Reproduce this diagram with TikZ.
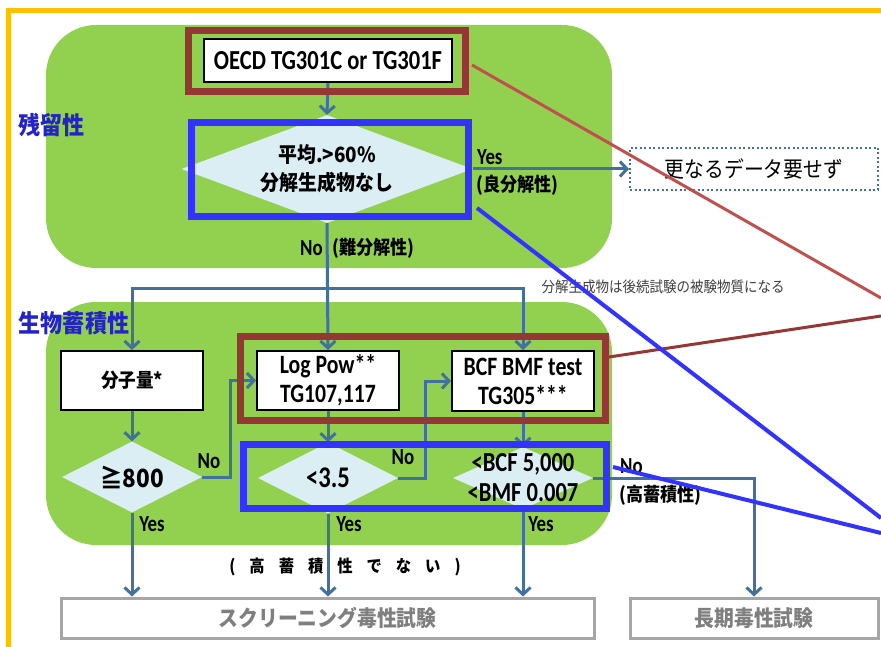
\documentclass[tikz,border=0pt]{standalone}
\usepackage{fontspec}
\setmainfont{Carlito}[FakeStretch=0.82]
\newfontfamily\jp{Noto Sans CJK JP}[FakeStretch=0.9]
\usetikzlibrary{shapes.geometric,arrows.meta}
\definecolor{panelgreen}{HTML}{92D050}
\definecolor{flow}{HTML}{41719C}
\definecolor{dia}{HTML}{DAEEF3}
\definecolor{hlred}{HTML}{953735}
\definecolor{hlblue}{HTML}{3333FF}
\definecolor{lnred}{HTML}{C0504D}
\definecolor{secblue}{HTML}{2323C8}
\definecolor{orng}{HTML}{FFC000}
\definecolor{grayline}{HTML}{A6A6A6}
\definecolor{graytext}{HTML}{7F7F7F}
\definecolor{notegray}{HTML}{404040}
\begin{document}
\begin{tikzpicture}[x=1pt,y=-1pt,
  panel/.style={fill=panelgreen,draw=none,rounded corners=50pt},
  procbox/.style={draw=black,line width=2pt,fill=white,inner sep=0pt,align=center,
    font=\bfseries\fontsize{26.5}{29}\selectfont},
  decision/.style={diamond,fill=dia,draw=none,inner sep=0pt},
  dtext/.style={inner sep=0pt,align=center},
  flowline/.style={draw=flow,line width=3pt},
  flowarrow/.style={flowline,-{Straight Barb[length=7pt,width=15pt]}},
  hlredbox/.style={draw=hlred,line width=7pt,inner sep=0pt},
  hlbluebox/.style={draw=hlblue,line width=7pt,inner sep=0pt},
  yesno/.style={font=\bfseries\fontsize{23}{25}\selectfont,inner sep=0pt},
  jplabel/.style={font=\jp\bfseries\fontsize{19}{22}\selectfont,inner sep=0pt},
  seclabel/.style={font=\jp\bfseries\fontsize{24.5}{26}\selectfont,text=secblue,inner sep=0pt},
  outbox/.style={draw=grayline,line width=3pt,fill=white,text=graytext,inner sep=0pt,
    font=\jp\bfseries\fontsize{22}{26}\selectfont},
  callred/.style={draw=lnred,line width=3pt},
  callbrown/.style={draw=hlred,line width=3pt},
  callblue/.style={draw=hlblue,line width=4pt}
]
\useasboundingbox (0,0) rectangle (881,647);
\fill[white] (0,0) rectangle (881,647);
% orange frame
\draw[orng,line width=5pt] (8.5,700) -- (8.5,10.5) -- (900,10.5);

% panels
\path[panel] (46,25) rectangle (612,268);
\path[panel] (46,302) rectangle (612,545);

% section labels
\node[seclabel] (secp) at (51.5,125) {残留性};
\node[seclabel] (secb) at (74,323) {生物蓄積性};

% top part
\node[procbox,minimum width=248pt,minimum height=43pt,font=\bfseries\fontsize{27.5}{29}\selectfont] (oecd) at (328,60.5) {OECD TG301C or TG301F};
\node[decision,minimum width=291pt,minimum height=108pt] (d1) at (327,169) {};
\node[dtext,font=\jp\bfseries\fontsize{21}{28}\selectfont] (d1t) at (d1.center) {平均.>60\%\\分解生成物なし};
\node[draw=flow,line width=2pt,dash pattern=on 2pt off 2.5pt,minimum width=248pt,minimum height=42pt,
  inner sep=0pt,font=\jp\fontsize{22}{24}\selectfont] (nomore) at (754,169) {更なるデータ要せず};

\draw[flowarrow] (oecd.south) -- (d1.north);
\draw[flowarrow] (d1.east) -- (nomore.west);
\node[yesno,anchor=west] (yes1) at (477,157) {Yes};
\node[jplabel,anchor=west] (ryes1) at (476,185) {(良分解性)};

% bioaccumulation part
\node[procbox,minimum width=142pt,minimum height=59pt,font=\jp\bfseries\fontsize{19.5}{22}\selectfont] (mw) at (132,380.5) {分子量*};
\node[procbox,minimum width=142pt,minimum height=59pt] (logpow) at (328,380.5) {Log Pow**\\TG107,117};
\node[procbox,minimum width=142pt,minimum height=60pt] (bcf) at (523,381) {BCF BMF test\\TG305***};

\node[decision,minimum width=140pt,minimum height=71pt] (d800) at (132,477) {};
\node[dtext,font=\jp\bfseries\fontsize{25}{26}\selectfont] (d800t) at (d800.center) {≧800};
\node[decision,minimum width=140pt,minimum height=71pt] (d35) at (328,478) {};
\node[dtext,font=\bfseries\fontsize{30}{30}\selectfont] (d35t) at (d35.center) {<3.5};
\node[decision,minimum width=140pt,minimum height=62pt] (dbcf) at (523,478) {};
\node[dtext,font=\bfseries\fontsize{27.5}{30}\selectfont] (dbcft) at (dbcf.center) {<BCF 5,000\\<BMF 0.007};

% outputs
\node[outbox,minimum width=533pt,minimum height=40pt] (screen) at (327.5,618) {スクリーニング毒性試験};
\node[outbox,minimum width=248pt,minimum height=40pt] (longterm) at (754,618) {長期毒性試験};

% flow connectors
\coordinate (br) at (327,288);
\draw[flowarrow] (d1.south) -- (logpow.north);
\draw[flowarrow] (br) -| (mw.north);
\draw[flowarrow] (br) -| (bcf.north);
\node[yesno,anchor=east] (no1) at (323,248) {No};
\node[jplabel,anchor=west] (rno1) at (332,248) {(難分解性)};
\node[font=\jp\fontsize{15}{17}\selectfont,text=notegray,inner sep=0pt] (note) at (663,287) {分解生成物は後続試験の被験物質になる};

\draw[flowarrow] (mw.south) -- (d800.north);
\draw[flowarrow] (logpow.south) -- (d35.north);
\draw[flowarrow] (bcf.south) -- (dbcf.north);

\draw[flowarrow] (d800.east) -- ++(28,0) |- (logpow.west);
\node[yesno] (no2) at (209,461) {No};
\draw[flowarrow] (d35.east) -- ++(27,0) |- (bcf.west);
\node[yesno] (no3) at (403,457) {No};
\draw[flowarrow] (dbcf.east) -| (longterm.north);
\node[yesno,anchor=west] (no4) at (620,466) {No};
\node[jplabel,anchor=west] (rno4) at (619,495) {(高蓄積性)};

\draw[flowarrow] (d800.south) -- (d800.south |- screen.north);
\draw[flowarrow] (d35.south) -- (d35.south |- screen.north);
\draw[flowarrow] (dbcf.south) -- (dbcf.south |- screen.north);
\node[yesno] (yes2) at (152,524) {Yes};
\node[yesno] (yes3) at (349,524) {Yes};
\node[yesno] (yes4) at (541,524) {Yes};
\node[font=\jp\bfseries\fontsize{17}{19}\selectfont,inner sep=0pt] (nothigh) at (345,567)
  {(\hspace{14pt}高\hspace{14pt}蓄\hspace{14pt}積\hspace{14pt}性\hspace{14pt}で\hspace{14pt}な\hspace{14pt}い\hspace{14pt})};

% highlight frames
\node[hlredbox,minimum width=276.5pt,minimum height=61pt] (oecdhl) at (326.75,61) {};
\node[hlbluebox,minimum width=277pt,minimum height=94pt] (d1hl) at (330,169.5) {};
\node[hlredbox,minimum width=365pt,minimum height=84pt] (testhl) at (423,378) {};
\node[hlbluebox,minimum width=363pt,minimum height=64pt] (dechl) at (425,476) {};

% callout lines
\coordinate (r1s) at (472,65);  \coordinate (r1e) at (881,298);
\coordinate (r2s) at (609,357); \coordinate (r2e) at (881,316);
\coordinate (b1s) at (477,208); \coordinate (b1e) at (881,518);
\coordinate (b2s) at (613,467); \coordinate (b2e) at (881,533);
\draw[callred] (r1s) -- (r1e);
\draw[callbrown] (r2s) -- (r2e);
\draw[callblue] (b1s) -- (b1e);
\draw[callblue] (b2s) -- (b2e);
\end{tikzpicture}
\end{document}
